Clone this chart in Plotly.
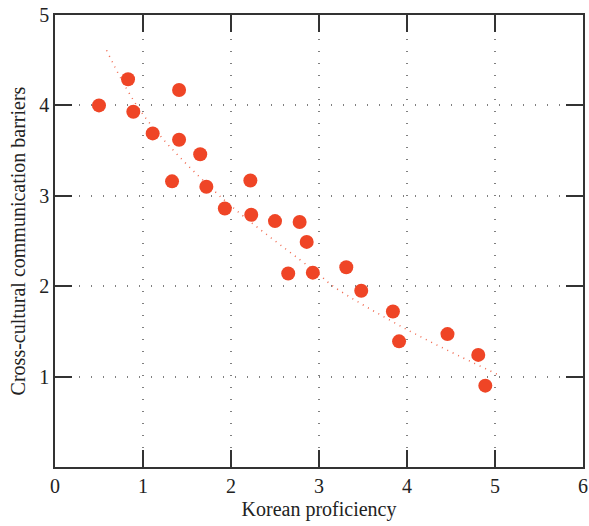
import plotly.graph_objects as go

korean_proficiency = [0.50, 0.83, 0.89, 1.41, 1.11, 1.41, 1.65, 1.33, 1.72, 2.22, 1.93, 2.23,
                      2.50, 2.78, 2.86, 2.65, 2.93, 3.31, 3.48, 3.84, 3.91, 4.46, 4.81, 4.89]
barriers = [4.00, 4.29, 3.93, 4.17, 3.69, 3.62, 3.46, 3.16, 3.10, 3.17, 2.86, 2.79,
            2.72, 2.71, 2.49, 2.14, 2.15, 2.21, 1.95, 1.72, 1.39, 1.47, 1.24, 0.90]
# trend line
trend_x = [0.586, 1.0, 1.87, 3.0, 3.16, 4.0, 5.06]
trend_y = [4.61, 3.90, 3.00, 2.13, 2.00, 1.52, 1.01]
x_ticks = [0, 1, 2, 3, 4, 5, 6]
y_ticks = [1, 2, 3, 4, 5]

red = "#EF4526"
font = "Liberation Serif"

fig = go.Figure()
fig.add_trace(go.Scatter(x=trend_x, y=trend_y, mode="lines",
                         line=dict(color="#F06A50", width=1.5, dash="1px,5px", shape="spline", smoothing=1.0),
                         hoverinfo="skip", showlegend=False))
fig.add_trace(go.Scatter(x=korean_proficiency, y=barriers, mode="markers",
                         marker=dict(color=red, size=14, line=dict(width=0)),
                         showlegend=False))

axis_common = dict(
    showline=True, linecolor="#333333", linewidth=1.5, mirror="ticks",
    ticks="inside", ticklen=17, tickwidth=1.5, tickcolor="#333333",
    showgrid=True, gridcolor="#808080", gridwidth=1.5, griddash="1px,11px",
    zeroline=False, automargin=False,
    tickfont=dict(family=font, size=20, color="#222222"),
)

fig.update_xaxes(range=[0, 6], tickvals=x_ticks, **axis_common,
                 title=dict(text="Korean proficiency", font=dict(family=font, size=20, color="#222222"),
                            standoff=6))
fig.update_yaxes(range=[0, 5], tickvals=y_ticks, **axis_common,
                 title=dict(text="Cross-cultural communication barriers",
                            font=dict(family=font, size=20, color="#222222"), standoff=8))

fig.update_layout(
    width=589, height=526,
    margin=dict(l=55, r=6, t=15, b=59),
    plot_bgcolor="white", paper_bgcolor="white",
)

fig.write_html("out.html")
